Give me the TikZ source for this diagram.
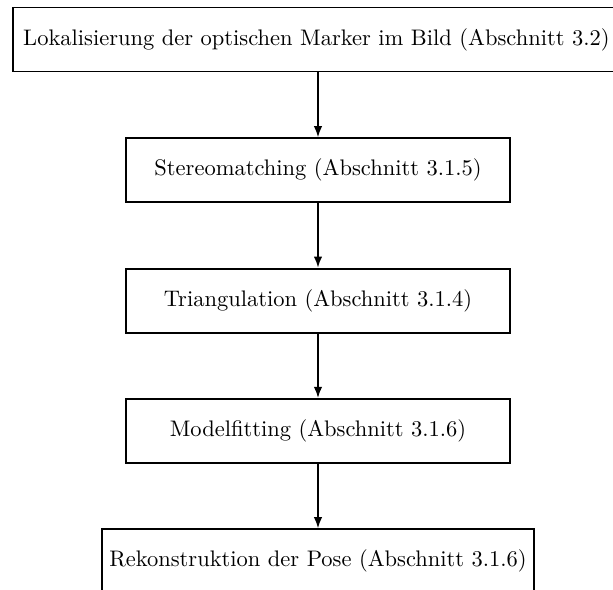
\documentclass[tikz,border=0pt]{standalone}
\usetikzlibrary{arrows.meta}
\begin{document}
\begin{tikzpicture}[x=0.4444pt,y=-0.4444pt,
  stepbox/.style={draw, thick, rectangle, minimum height=1cm, minimum width=6cm, align=center},
  flow/.style={thick, -{Latex[length=5pt, width=3.8pt]}}]
\useasboundingbox (0,0) rectangle (613,590);
\node[stepbox, anchor=west, minimum width=270pt] (loc) at (11.7,39.5) {Lokalisierung der optischen Marker im Bild (Abschnitt 3.2)};
\node[stepbox] (stereo) at (318,170.3)  {Stereomatching (Abschnitt 3.1.5)};
\node[stepbox] (tri)    at (318,300.7)  {Triangulation (Abschnitt 3.1.4)};
\node[stepbox] (fit)    at (318,431)    {Modelfitting (Abschnitt 3.1.6)};
\node[stepbox] (pose)   at (318,561.3)  {Rekonstruktion der Pose (Abschnitt 3.1.6)};
\draw[flow] (loc.south -| stereo.north) -- (stereo.north);
\draw[flow] (stereo) -- (tri);
\draw[flow] (tri) -- (fit);
\draw[flow] (fit) -- (pose);
\end{tikzpicture}
\end{document}
